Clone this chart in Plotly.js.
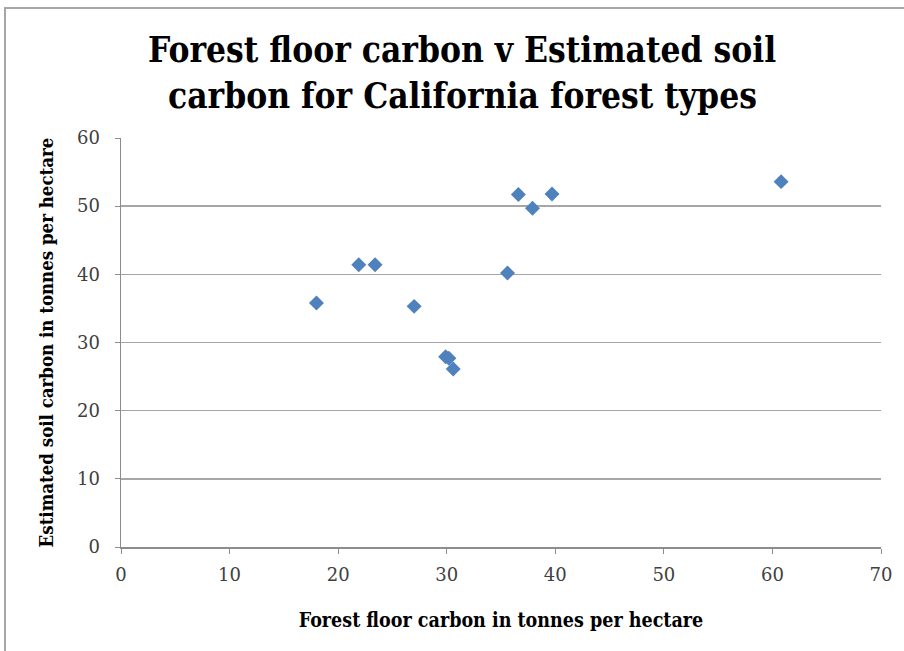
<!DOCTYPE html>
<html>
<head>
<meta charset="utf-8">
<script src="https://cdn.plot.ly/plotly-3.0.1.min.js"></script>
<style>
  html, body { margin: 0; padding: 0; background: #fff; overflow: hidden; }
  #frame { position: absolute; left: 4px; top: 7px; width: 920px; height: 660px;
           border-left: 2px solid #a6a6a6; border-top: 2px solid #a6a6a6; }
  #chart { position: absolute; left: 0; top: 0; width: 904px; height: 651px; }
</style>
</head>
<body>
<div id="frame"></div>
<div id="chart"></div>
<script>
// Forest floor carbon (x) against estimated soil carbon (y), tonnes per hectare
const forestFloorCarbon = [18.0, 21.9, 23.4, 27.0, 29.9, 30.2, 30.6, 35.6, 36.6, 37.9, 39.7, 60.8];
const soilCarbon        = [35.8, 41.4, 41.4, 35.3, 27.9, 27.7, 26.1, 40.2, 51.7, 49.7, 51.8, 53.6];

const xTicks = [0, 10, 20, 30, 40, 50, 60, 70];
const yTicks = [0, 10, 20, 30, 40, 50, 60];

const titleLines = ['Forest floor carbon v Estimated soil', 'carbon for California forest types'];

const serif = 'DejaVu Serif, serif';
const serifNarrow = 'DejaVu Serif Condensed, DejaVu Serif, serif';

const trace = {
  type: 'scatter',
  mode: 'markers',
  x: forestFloorCarbon,
  y: soilCarbon,
  marker: { symbol: 'diamond', size: 11.5, color: '#4f81bd' },
  hoverinfo: 'x+y'
};

// two-line chart heading, set as separate lines for wider line spacing
const headingY = [1.2176, 1.1027];
const annotations = titleLines.map((line, i) => ({
  text: '<b>' + line + '</b>',
  xref: 'paper', yref: 'paper',
  x: 0.4487, y: headingY[i],
  xanchor: 'center', yanchor: 'middle',
  showarrow: false,
  font: { family: serifNarrow, size: 35, color: '#000' }
}));

const layout = {
  width: 904,
  height: 651,
  paper_bgcolor: 'rgba(0,0,0,0)',
  plot_bgcolor: 'rgba(0,0,0,0)',
  margin: { l: 121, r: 23, t: 138, b: 104 },
  showlegend: false,
  annotations: annotations,
  xaxis: {
    range: [0, 70],
    tickvals: xTicks,
    ticktext: xTicks.map(String),
    showgrid: false,
    zeroline: false,
    showline: true,
    linecolor: '#8c8c8c',
    linewidth: 1.5,
    ticks: 'outside',
    ticklen: 5,
    tickcolor: '#8c8c8c',
    ticklabelstandoff: 6,
    tickfont: { family: serif, size: 18, color: '#404040' },
    title: {
      text: '<b>Forest floor carbon in tonnes per hectare</b>',
      font: { family: serifNarrow, size: 19.5, color: '#000' },
      standoff: 29
    }
  },
  yaxis: {
    range: [0, 60],
    tickvals: yTicks,
    ticktext: yTicks.map(String),
    showgrid: true,
    gridcolor: '#a6a6a6',
    gridwidth: 1.5,
    zeroline: false,
    showline: true,
    linecolor: '#8c8c8c',
    linewidth: 1.5,
    ticks: 'outside',
    ticklen: 5,
    tickcolor: '#8c8c8c',
    ticklabelstandoff: 11,
    tickfont: { family: serif, size: 18, color: '#404040' },
    title: {
      text: '<b>Estimated soil carbon in tonnes per hectare</b>',
      font: { family: serifNarrow, size: 18.5, color: '#000' },
      standoff: 18
    }
  }
};

Plotly.newPlot('chart', [trace], layout, { displayModeBar: false, staticPlot: true });
</script>
</body>
</html>
